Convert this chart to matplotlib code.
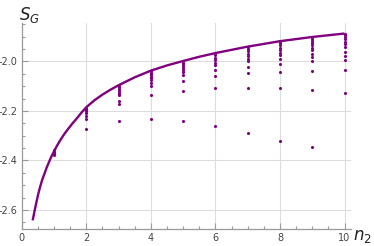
import numpy as np
import matplotlib
matplotlib.use("Agg")
import matplotlib.pyplot as plt
from matplotlib.ticker import MultipleLocator

plt.rcParams['axes.unicode_minus'] = False

# curve S_G(n2)
curve_n = [0.34, 0.4, 0.45, 0.51, 0.57, 0.63, 0.7, 0.77, 0.85, 0.92, 1.0,
           1.1, 1.2, 1.3, 1.4, 1.55, 1.7, 1.85, 2.0, 2.25, 2.5, 2.75, 3.0,
           3.5, 4.0, 4.5, 5.0, 5.5, 6.0, 7.0, 8.0, 9.0, 10.0]
curve_s = [-2.642, -2.603, -2.572, -2.537, -2.507, -2.48, -2.455, -2.43,
           -2.405, -2.384, -2.363, -2.339, -2.317, -2.297, -2.279, -2.254,
           -2.231, -2.207, -2.185, -2.157, -2.134, -2.114, -2.096, -2.064,
           -2.037, -2.016, -1.998, -1.981, -1.966, -1.94, -1.918, -1.901,
           -1.887]

# point columns at integer n2
dots = {
    1: [-2.359, -2.364, -2.368, -2.372, -2.376],
    2: [-2.186, -2.19, -2.195, -2.201, -2.209, -2.221, -2.233, -2.271],
    3: [-2.097, -2.105, -2.113, -2.12, -2.126, -2.131, -2.136, -2.159,
        -2.172, -2.24],
    4: [-2.038, -2.045, -2.05, -2.055, -2.062, -2.068, -2.075, -2.086,
        -2.10, -2.137, -2.234],
    5: [-1.999, -2.005, -2.012, -2.02, -2.028, -2.035, -2.042, -2.055,
        -2.08, -2.12, -2.241],
    6: [-1.967, -1.975, -1.985, -1.995, -2.005, -2.015, -2.035, -2.058,
        -2.109, -2.262],
    7: [-1.941, -1.948, -1.958, -1.968, -1.978, -1.99, -2.0, -2.022,
        -2.048, -2.109, -2.291],
    8: [-1.918, -1.925, -1.935, -1.945, -1.955, -1.965, -1.975, -1.988,
        -2.011, -2.042, -2.109, -2.321],
    9: [-1.901, -1.908, -1.916, -1.925, -1.935, -1.945, -1.955, -1.968,
        -1.982, -1.999, -2.038, -2.117, -2.346],
    10: [-1.887, -1.893, -1.90, -1.91, -1.92, -1.93, -1.94, -1.961,
         -1.978, -1.995, -2.036, -2.127],
}

purple = '#800080'
axcol = '#999999'
txtcol = '#444444'

fig = plt.figure(figsize=(3.74, 2.46), dpi=100)
ax = fig.add_axes([0.058, 0.069, 0.8805, 0.836])

for n, vals in dots.items():
    ax.scatter([n] * len(vals), vals, s=5, color=purple, lw=0, zorder=3)
ax.plot(curve_n, curve_s, color=purple, lw=1.7, zorder=4,
        solid_capstyle='butt', solid_joinstyle='round')

ax.set_xlim(0, 10.2)
ax.set_ylim(-2.677, -1.846)

ax.set_xticks([0, 2, 4, 6, 8, 10])
ax.set_yticks([-2.6, -2.4, -2.2, -2.0])
ax.xaxis.set_minor_locator(MultipleLocator(0.5))
ax.yaxis.set_minor_locator(MultipleLocator(0.05))

for x in [2, 4, 6, 8, 10]:
    ax.axvline(x, color='#dddddd', lw=0.8, zorder=0)
for y in [-2.6, -2.4, -2.2, -2.0]:
    ax.axhline(y, color='#dddddd', lw=0.8, zorder=0)

for s in ['top', 'right']:
    ax.spines[s].set_visible(False)
for s in ['left', 'bottom']:
    ax.spines[s].set_color(axcol)
    ax.spines[s].set_linewidth(0.9)

ax.tick_params(which='both', direction='in', color=axcol, labelcolor=txtcol,
               labelsize=7, width=0.8)
ax.tick_params(which='major', length=4, pad=3)
ax.tick_params(which='minor', length=2.5)

fig.text(0.078, 0.94, r'$S_G$', fontsize=12, color='#222222',
         ha='center', va='center')
fig.text(0.97, 0.04, r'$n_2$', fontsize=12, color='#222222',
         ha='center', va='center')

fig.savefig('out.png', dpi=100)
